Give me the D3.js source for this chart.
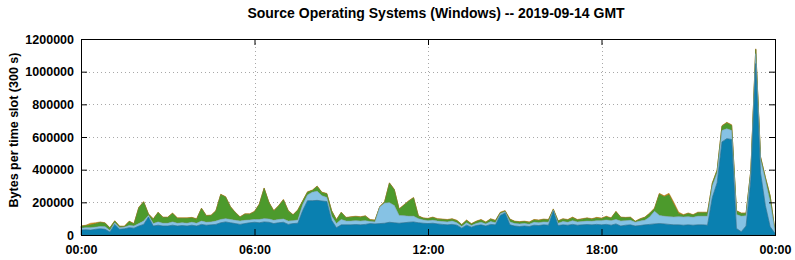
<!DOCTYPE html>
<html>
<head>
<meta charset="utf-8">
<script src="https://cdn.jsdelivr.net/npm/d3@7"></script>
<style>
  body { margin: 0; background: #fff; }
  svg { display: block; }
  text { font-family: "Liberation Sans", Arial, Helvetica, sans-serif; font-weight: bold; }
</style>
</head>
<body>
<svg id="chart" width="795" height="260"></svg>
<script>
// Time slots: one value every 10 minutes, 00:00 .. 24:00 (values in thousands of bytes)
const slotMinutes = 10;
const unit = 1000;

const darkBlue = [30,32,30,35,38,35,18,65,35,38,45,42,55,65,110,55,60,55,55,60,55,58,55,60,55,65,60,62,65,75,80,75,70,65,70,75,78,75,80,78,70,75,78,65,70,72,150,210,210,212,208,205,90,45,62,62,62,64,62,65,70,68,70,72,78,75,72,75,78,80,75,72,70,72,68,65,62,65,60,42,60,48,58,62,55,65,62,120,135,62,55,52,55,52,60,58,62,60,145,58,62,60,65,60,62,64,62,65,62,65,60,68,55,60,62,55,58,62,65,68,70,68,65,62,62,60,62,60,62,62,60,230,320,570,590,585,40,20,55,340,1050,380,180,50,10];

const lightBlue = [12,13,14,13,14,15,10,10,10,10,13,13,15,20,10,15,20,17,17,20,17,17,17,18,17,20,18,18,20,20,20,20,20,20,20,17,17,20,20,20,20,20,20,20,18,20,35,35,52,56,32,25,25,25,33,23,23,24,23,23,12,12,102,123,120,105,48,43,37,35,25,20,18,18,17,17,18,20,15,10,15,10,12,16,13,17,13,10,7,18,15,16,15,14,18,17,18,18,7,14,20,18,23,20,20,21,22,23,26,27,28,27,30,28,28,23,27,28,45,77,50,47,47,48,50,50,50,48,53,53,55,70,60,70,60,55,85,95,63,40,60,80,155,150,10];

const green = [11,12,18,21,25,22,15,10,7,3,24,12,97,117,7,27,57,35,35,52,30,27,30,27,25,77,39,39,62,152,132,77,47,24,37,35,47,92,185,99,57,82,117,62,34,60,22,17,10,29,19,22,32,22,42,20,24,24,24,27,10,9,0,7,119,97,37,64,92,112,15,10,11,17,12,13,12,12,12,10,14,9,12,14,9,15,12,6,4,15,12,11,12,11,14,14,15,14,4,13,15,14,18,12,15,17,13,16,12,19,14,47,22,17,17,4,12,17,21,15,130,119,135,78,20,11,19,14,21,21,21,16,16,26,36,31,21,17,14,16,26,16,16,37,4];

const orange = [2,3,10,6,3,3,2,3,3,4,3,3,3,3,3,3,3,3,3,3,3,3,3,3,3,3,3,3,3,3,3,3,3,3,3,3,3,3,3,3,3,3,3,3,3,3,3,3,3,3,3,3,3,3,3,3,3,3,3,3,3,3,3,3,3,3,3,3,3,3,3,3,3,3,3,3,3,3,3,3,3,3,3,3,3,3,3,4,4,3,3,3,3,3,3,3,3,3,4,3,3,3,4,3,3,3,3,4,4,4,3,3,3,3,3,3,3,3,4,5,5,6,8,12,8,4,4,3,4,4,4,4,4,4,4,4,4,3,3,4,4,4,4,3,1];

const seriesNames = ["darkBlue", "lightBlue", "green", "orange"];
const seriesColors = { darkBlue: "#0a80b0", lightBlue: "#86c2e4", green: "#4c9a2c", orange: "#e0900c" };
const seriesStroke = { darkBlue: "#2a6f8f", lightBlue: "#7fa9bf", green: "#5a7f2a", orange: "#b07a20" };

const yTicks = [0, 200000, 400000, 600000, 800000, 1000000, 1200000];
const xTickMinutes = [0, 360, 720, 1080, 1440];
const xTickLabels = ["00:00", "06:00", "12:00", "18:00", "00:00"];
const title = "Source Operating Systems (Windows) -- 2019-09-14 GMT";
const yTitle = "Bytes per time slot (300 s)";

const rows = darkBlue.map((d, i) => ({
  t: i * slotMinutes,
  darkBlue: d * unit,
  lightBlue: lightBlue[i] * unit,
  green: green[i] * unit,
  orange: orange[i] * unit
}));

const L = 81, R = 775, T = 39, B = 235;
const svg = d3.select("#chart");
const x = d3.scaleLinear().domain([0, 1440]).range([L, R]);
const y = d3.scaleLinear().domain([0, 1200000]).range([B, T]);

// grid
const grid = svg.append("g").attr("stroke", "#a8a8a8").attr("stroke-width", 1).attr("stroke-dasharray", "1,3");
yTicks.slice(1, -1).forEach(v => {
  grid.append("line").attr("x1", L).attr("x2", R).attr("y1", Math.round(y(v)) + 0.5).attr("y2", Math.round(y(v)) + 0.5);
});
xTickMinutes.slice(1, -1).forEach(v => {
  grid.append("line").attr("y1", T).attr("y2", B).attr("x1", Math.round(x(v)) + 0.5).attr("x2", Math.round(x(v)) + 0.5);
});

// stacked areas
const stack = d3.stack().keys(seriesNames);
const layers = stack(rows);
const area = d3.area()
  .x(d => x(d.data.t))
  .y0(d => y(d[0]))
  .y1(d => y(d[1]));

svg.append("g").selectAll("path").data(layers.slice().reverse()).join("path")
  .attr("d", area)
  .attr("fill", d => seriesColors[d.key])
  .attr("stroke", d => seriesStroke[d.key])
  .attr("stroke-width", 0.6);

// axes with inward ticks
const fmt = d3.format("d");
svg.append("g").attr("transform", `translate(${L},0)`)
  .call(d3.axisLeft(y).tickValues(yTicks).tickFormat(fmt).tickSize(-6).tickPadding(7))
  .call(g => g.select(".domain").remove())
  .call(g => g.selectAll("text").attr("font-size", 12.5).attr("fill", "#000"));
svg.append("g").attr("transform", `translate(${R},0)`)
  .call(d3.axisRight(y).tickValues(yTicks).tickFormat("").tickSize(-6))
  .call(g => g.select(".domain").remove());
svg.append("g").attr("transform", `translate(0,${B})`)
  .call(d3.axisBottom(x).tickValues(xTickMinutes).tickFormat((d, i) => xTickLabels[i]).tickSize(-6).tickPadding(10))
  .call(g => g.select(".domain").remove())
  .call(g => g.selectAll("text").attr("font-size", 12.5).attr("fill", "#000"));
svg.append("g").attr("transform", `translate(0,${T})`)
  .call(d3.axisTop(x).tickValues(xTickMinutes).tickFormat("").tickSize(-6))
  .call(g => g.select(".domain").remove());

// border
svg.append("rect").attr("x", L + 0.5).attr("y", T + 0.5).attr("width", R - L).attr("height", B - T)
  .attr("fill", "none").attr("stroke", "#000").attr("stroke-width", 1);

// titles
svg.append("text").attr("x", 436).attr("y", 18).attr("text-anchor", "middle")
  .attr("font-size", 14).text(title);
svg.append("text").attr("transform", "translate(18,130) rotate(-90)").attr("text-anchor", "middle")
  .attr("font-size", 12.5).text(yTitle);
</script>
</body>
</html>
